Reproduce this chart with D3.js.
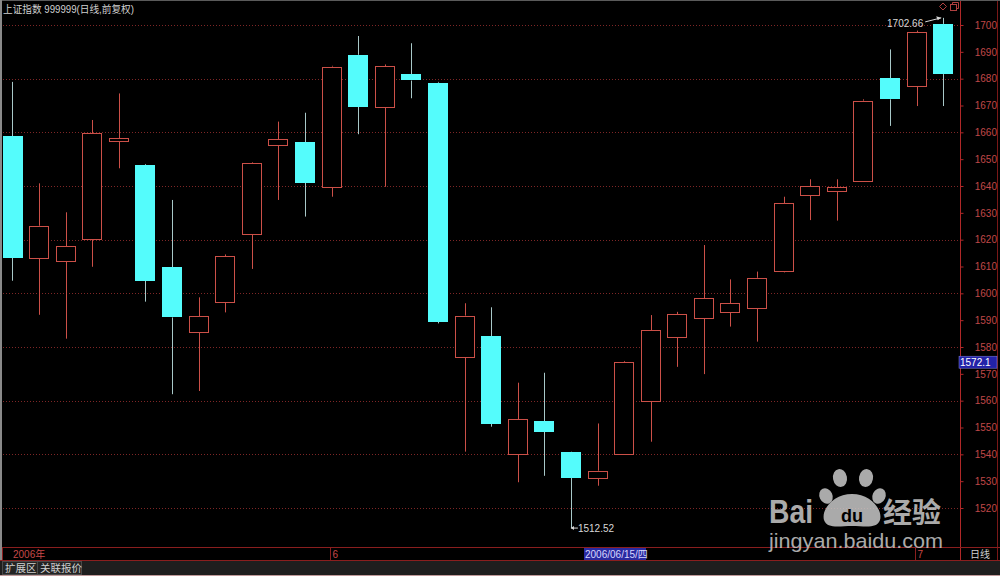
<!DOCTYPE html>
<html><head><meta charset="utf-8">
<script src="https://cdn.jsdelivr.net/npm/d3@7"></script>
<style>
html,body{margin:0;padding:0;background:#000;overflow:hidden}
svg{display:block}
text{font-family:"Liberation Sans","Noto Sans CJK SC",sans-serif}
</style></head>
<body>
<svg id="c" width="1000" height="576"></svg>
<script>
// ---- data ----
const dates = ["2006/05/16","2006/05/17","2006/05/18","2006/05/19","2006/05/22","2006/05/23","2006/05/24","2006/05/25","2006/05/26","2006/05/29","2006/05/30","2006/05/31",
 "2006/06/01","2006/06/02","2006/06/05","2006/06/06","2006/06/07","2006/06/08","2006/06/09","2006/06/12","2006/06/13","2006/06/14","2006/06/15","2006/06/16",
 "2006/06/19","2006/06/20","2006/06/21","2006/06/22","2006/06/23","2006/06/26","2006/06/27","2006/06/28","2006/06/29","2006/06/30","2006/07/03","2006/07/04"];
const open  = [1658.6,1613.2,1611.8,1620.2,1656.6,1647.9,1609.8,1585.3,1596.6,1622.1,1655.0,1656.3,
               1639.7,1688.9,1669.3,1681.6,1678.5,1576.4,1584.1,1540.1,1552.4,1540.9,1531.3,1540.1,
               1560.0,1583.8,1590.7,1593.1,1594.6,1608.0,1636.6,1638.1,1642.0,1680.1,1677.3,1700.4];
const high  = [1678.8,1641.0,1630.2,1664.6,1674.5,1648.2,1634.8,1598.5,1614.5,1648.8,1664.0,1667.3,
               1684.8,1695.9,1685.3,1693.2,1678.8,1596.3,1594.8,1566.7,1570.4,1541.0,1551.5,1574.8,
               1591.9,1593.1,1618.0,1605.2,1608.1,1636.0,1642.5,1642.5,1672.3,1690.9,1697.9,1702.66];
const low   = [1604.7,1592.0,1583.1,1609.9,1646.6,1596.9,1562.4,1563.6,1592.9,1609.1,1634.8,1628.6,
               1636.0,1659.3,1639.7,1672.7,1588.8,1541.0,1550.3,1529.6,1532.0,1512.52,1528.3,1539.8,
               1544.7,1572.6,1569.9,1587.6,1582.0,1607.8,1627.3,1627.1,1641.8,1662.4,1669.8,1669.8];
const close = [1613.2,1625.2,1617.5,1659.6,1657.8,1604.7,1591.0,1591.4,1613.9,1648.4,1657.4,1641.2,
               1684.5,1669.6,1684.7,1679.3,1589.4,1591.7,1551.3,1553.0,1548.4,1531.3,1533.9,1574.5,
               1586.3,1592.3,1598.1,1596.3,1605.8,1633.5,1640.0,1639.5,1671.8,1672.3,1697.3,1681.7];
const priceTicks = [1520,1530,1540,1550,1560,1570,1580,1590,1600,1610,1620,1630,1640,1650,1660,1670,1680,1690,1700];
const gridTicks = [1520,1540,1560,1580,1600,1620,1640,1660,1680,1700];
const monthLabels = [{date:"2006/06/01",label:"6"},{date:"2006/07/03",label:"7"}];
const firstLabel = "2006年";
const title = "上证指数 999999(日线,前复权)";
const cursorDate = "2006/06/15/四";
const cursorPrice = 1572.1;
const maxLabel = "1702.66", minLabel = "1512.52";

// ---- setup ----
const svg = d3.select("#c");
const RED = "#cc5048", CYAN = "#54fcfc", CYANWICK = "#a8c8c8";
const x = d3.scaleBand().domain(dates).range([-0.8, 956.5]).paddingInner(0.25).paddingOuter(0.125);
const y = d3.scaleLinear().domain([1520, 1700]).range([508, 25]);
const bw = x.bandwidth();
const cx = d => x(d) + bw / 2;

svg.append("rect").attr("width",1000).attr("height",576).attr("fill","#000");

// gridlines
svg.append("g").selectAll("line").data(gridTicks).join("line")
  .attr("x1", 3).attr("x2", 959)
  .attr("y1", d => Math.round(y(d)) + 0.5).attr("y2", d => Math.round(y(d)) + 0.5)
  .attr("stroke", "#7e2626").attr("stroke-width", 1).attr("stroke-dasharray", "1,2");

// candles
const data = dates.map((d, i) => ({d, o: open[i], h: high[i], l: low[i], c: close[i]}));
const g = svg.append("g");
data.forEach(k => {
  const up = k.c >= k.o;
  const X = Math.round(cx(k.d)) + 0.5;
  const top = y(Math.max(k.o, k.c)), bot = y(Math.min(k.o, k.c));
  const col = up ? RED : CYANWICK;
  if (y(k.h) < top) g.append("line").attr("x1", X).attr("x2", X).attr("y1", y(k.h)).attr("y2", top).attr("stroke", col);
  if (y(k.l) > bot) g.append("line").attr("x1", X).attr("x2", X).attr("y1", bot).attr("y2", y(k.l)).attr("stroke", col);
  const bx = Math.round(x(k.d));
  if (up) {
    g.append("rect").attr("x", bx + 0.5).attr("y", Math.round(top) + 0.5)
      .attr("width", Math.round(bw) - 1).attr("height", Math.max(1, Math.round(bot - top)))
      .attr("fill", "#000").attr("stroke", RED).attr("stroke-width", 1);
  } else {
    g.append("rect").attr("x", bx).attr("y", Math.round(top))
      .attr("width", Math.round(bw)).attr("height", Math.max(2, Math.round(bot - top)))
      .attr("fill", CYAN);
  }
});

// max / min annotations
const iMax = high.indexOf(d3.max(high)), iMin = low.indexOf(d3.min(low));
const mx = cx(dates[iMax]), my = y(high[iMax]);
svg.append("text").attr("x", mx - 20).attr("y", my + 9).attr("text-anchor", "end")
  .attr("fill", "#d8d8d8").attr("font-size", "10px").text(maxLabel);
svg.append("line").attr("x1", mx - 18).attr("y1", my + 4).attr("x2", mx - 2).attr("y2", my)
  .attr("stroke", "#d8d8d8");
svg.append("path").attr("d", `M${mx-2},${my} l-5,-1.5 l1.5,4 z`).attr("fill", "#d8d8d8");
const lx = cx(dates[iMin]), ly = y(low[iMin]);
svg.append("line").attr("x1", lx).attr("y1", ly).attr("x2", lx + 7).attr("y2", ly).attr("stroke", "#d8d8d8");
svg.append("path").attr("d", `M${lx},${ly} l3,-2 l0,4 z`).attr("fill", "#d8d8d8");
svg.append("text").attr("x", lx + 7).attr("y", ly + 4).attr("fill", "#d8d8d8").attr("font-size", "10px").text(minLabel);

// right axis
const axisX = 960;
svg.append("line").attr("x1", axisX + 0.5).attr("x2", axisX + 0.5).attr("y1", 0).attr("y2", 560).attr("stroke", "#b02828");
svg.append("line").attr("x1", 997.5).attr("x2", 997.5).attr("y1", 0).attr("y2", 560).attr("stroke", "#7a1818");
const ax = svg.append("g").attr("transform", `translate(${axisX + 0.5},0)`)
  .call(d3.axisRight(y).tickValues(priceTicks).tickSize(3).tickFormat(d3.format("d")));
ax.select(".domain").remove();
ax.selectAll(".tick line").attr("stroke", "#b02828");
ax.selectAll(".tick text").attr("fill", "#c04848").attr("font-size", "10px")
  .attr("font-family", "Liberation Sans").attr("text-anchor", "end").attr("x", 36.5);

// cursor price box
const cpY = y(cursorPrice);
svg.append("rect").attr("x", 959).attr("y", cpY - 12).attr("width", 38).attr("height", 12)
  .attr("fill", "#2222a8").attr("stroke", "#8888dd").attr("stroke-width", 0.5);
svg.append("text").attr("x", 960).attr("y", cpY - 2.5).attr("fill", "#ffffff").attr("font-size", "10px").text(cursorPrice.toFixed(1));

// title
svg.append("text").attr("x", 3).attr("y", 13).attr("fill", "#d0d0d0").attr("font-size", "10px")
  .attr("font-family", "Noto Sans CJK SC").attr("textLength", 131).attr("lengthAdjust", "spacingAndGlyphs").text(title);

// top icons
svg.append("path").attr("d", "M943,3 l3.5,3.5 l-3.5,3.5 l-3.5,-3.5 z").attr("fill", "none").attr("stroke", "#b04040");
svg.append("rect").attr("x", 950.5).attr("y", 4.5).attr("width", 6).attr("height", 6).attr("fill", "none").attr("stroke", "#b04040");
svg.append("path").attr("d", "M952.5,4.5 v-2 h6 v6 h-2").attr("fill", "none").attr("stroke", "#b04040");

// frame
svg.append("line").attr("x1", 0).attr("x2", 1000).attr("y1", 0.5).attr("y2", 0.5).attr("stroke", "#5a5a5a");
svg.append("rect").attr("x", 0).attr("y", 0).attr("width", 2).attr("height", 560).attr("fill", "#8a8a8a");

// x axis strip
svg.append("line").attr("x1", 2).attr("x2", 1000).attr("y1", 547.5).attr("y2", 547.5).attr("stroke", "#8a1e1e");
svg.append("line").attr("x1", 0).attr("x2", 1000).attr("y1", 560.5).attr("y2", 560.5).attr("stroke", "#8a1e1e");
svg.append("line").attr("x1", 2.5).attr("x2", 2.5).attr("y1", 547).attr("y2", 560).attr("stroke", "#8a1e1e");
svg.append("text").attr("x", 13).attr("y", 557.5).attr("fill", "#c84848").attr("font-size", "10px").text(firstLabel);
monthLabels.forEach(m => {
  const mxp = Math.round(cx(m.date)) - 1.5;
  svg.append("line").attr("x1", mxp).attr("x2", mxp).attr("y1", 547).attr("y2", 560).attr("stroke", "#8a1e1e");
  svg.append("text").attr("x", mxp + 2).attr("y", 557.5).attr("fill", "#c84848").attr("font-size", "10px").text(m.label);
});
const cdx = Math.round(x("2006/06/15")) - 4;
svg.append("rect").attr("x", cdx).attr("y", 548).attr("width", 62).attr("height", 12).attr("fill", "#2a2aa0");
svg.append("text").attr("x", cdx + 1).attr("y", 557.5).attr("fill", "#d8d8ff").attr("font-size", "10px").text(cursorDate);
svg.append("text").attr("x", 970).attr("y", 557.5).attr("fill", "#d0d0d0").attr("font-size", "10px")
  .attr("font-family", "Noto Sans CJK SC").text("日线");

// bottom tabs
svg.append("rect").attr("x", 0).attr("y", 561).attr("width", 1000).attr("height", 15).attr("fill", "#1e1e1e");
svg.append("line").attr("x1", 0).attr("x2", 1000).attr("y1", 575.5).attr("y2", 575.5).attr("stroke", "#c09a9a");
[["扩展区", 2, 35], ["关联报价", 37, 44]].forEach(t => {
  svg.append("rect").attr("x", t[1] + 0.5).attr("y", 561.5).attr("width", t[2]).attr("height", 13)
    .attr("fill", "#242424").attr("stroke", "#4a4a4a");
  svg.append("text").attr("x", t[1] + 3).attr("y", 572).attr("fill", "#d0d0d0").attr("font-size", "10.5px")
    .attr("font-family", "Noto Sans CJK SC").text(t[0]);
});

// watermark
const wm = svg.append("g").attr("fill", "#c8c8c8").attr("opacity", 0.85);
wm.append("text").attr("x", 769).attr("y", 523).attr("font-size", "33px").attr("font-weight", "bold")
  .attr("textLength", 44).attr("lengthAdjust", "spacingAndGlyphs").text("Bai");
wm.append("ellipse").attr("cx", 840).attr("cy", 478).attr("rx", 7).attr("ry", 9).attr("transform", "rotate(-10 840 478)");
wm.append("ellipse").attr("cx", 866).attr("cy", 478).attr("rx", 7).attr("ry", 9).attr("transform", "rotate(10 866 478)");
wm.append("ellipse").attr("cx", 826).attr("cy", 496).attr("rx", 6.5).attr("ry", 8).attr("transform", "rotate(-25 826 496)");
wm.append("ellipse").attr("cx", 879).attr("cy", 496).attr("rx", 6.5).attr("ry", 8).attr("transform", "rotate(25 879 496)");
wm.append("path").attr("d", "M852,494 C870,494 883,509 880,520 C877,529 865,526 852,526 C839,526 827,529 824,520 C821,509 834,494 852,494 Z");
wm.append("text").attr("x", 852).attr("y", 522).attr("text-anchor", "middle").attr("font-size", "18px")
  .attr("font-weight", "bold").attr("fill", "#000").text("du");
wm.append("text").attr("x", 883).attr("y", 523).attr("font-size", "28px").attr("font-weight", "bold")
  .attr("font-family", "Noto Sans CJK SC").attr("textLength", 58).attr("lengthAdjust", "spacingAndGlyphs").text("经验");
wm.append("text").attr("x", 769).attr("y", 548).attr("font-size", "21px")
  .attr("textLength", 174).attr("lengthAdjust", "spacingAndGlyphs").text("jingyan.baidu.com");
</script>
</body></html>
